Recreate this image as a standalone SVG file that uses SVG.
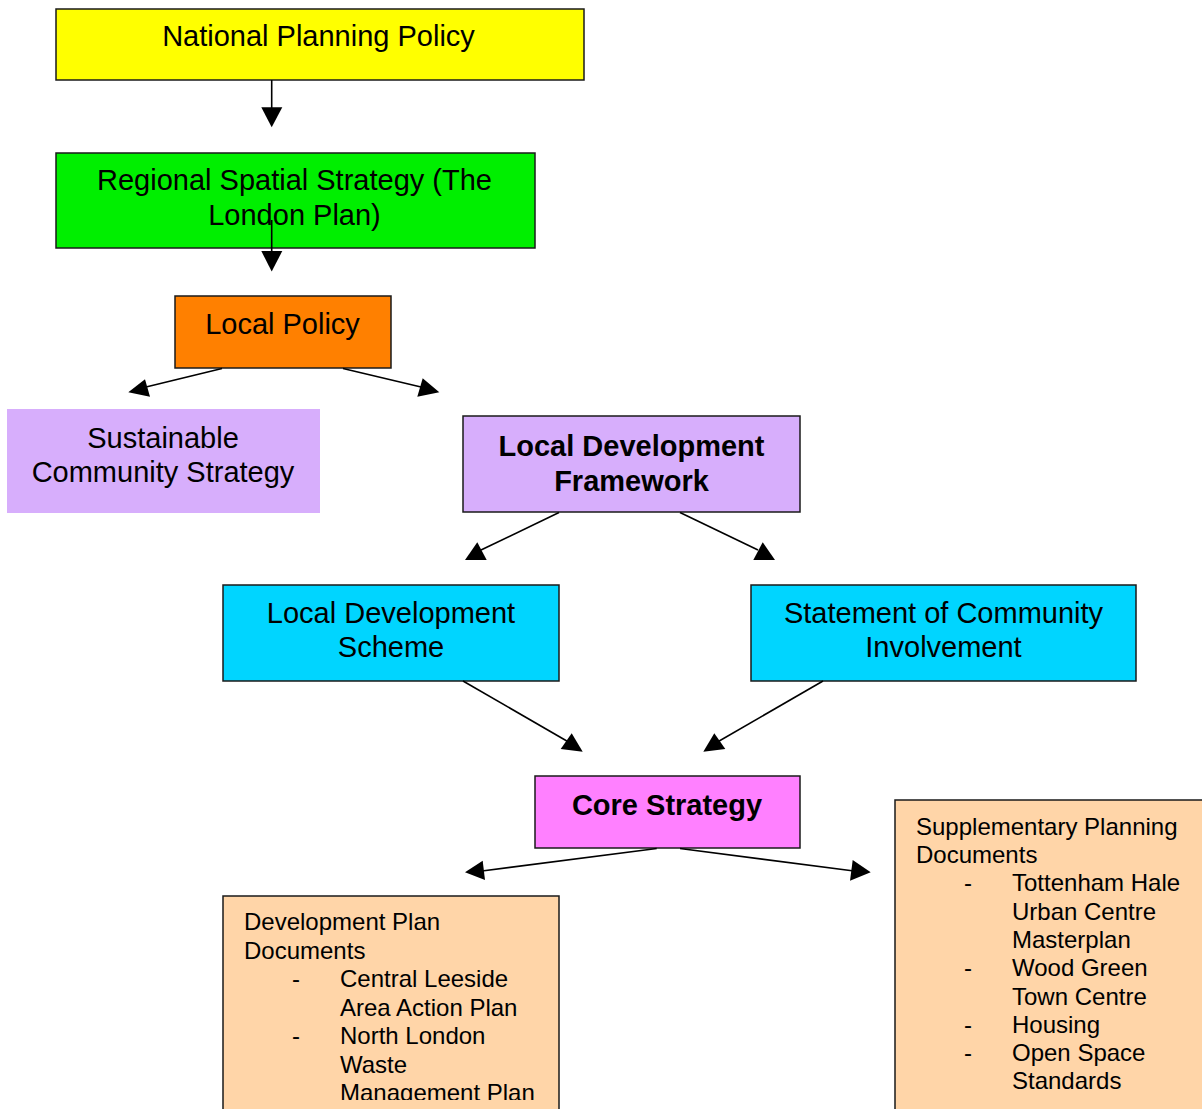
<svg xmlns="http://www.w3.org/2000/svg" width="1202" height="1109" viewBox="0 0 1202 1109">
<style>
.box{stroke:#1a1a1a;stroke-width:1.5}
.t{font-family:"Liberation Sans",Arial,sans-serif;font-size:29px;fill:#000;text-anchor:middle}
.b{font-weight:bold}
.s{font-family:"Liberation Sans",Arial,sans-serif;font-size:24px;fill:#000}
.ln{stroke:#000;stroke-width:1.6;fill:none}
.ah{fill:#000;stroke:none}
</style>
<defs>
<clipPath id="clipDpd"><rect x="223" y="896" width="337" height="204"/></clipPath>
</defs>
<rect width="1202" height="1109" fill="#fff"/>
<g id="national">
<rect class="box" x="56" y="9" width="528" height="71" fill="#FFFF00"/>
<text class="t" x="318.5" y="46">National Planning Policy</text>
</g>
<g id="regional">
<rect class="box" x="56" y="153" width="479" height="95" fill="#00EF00"/>
<text class="t" x="294.5" y="190">Regional Spatial Strategy (The</text>
<text class="t" x="294.5" y="225">London Plan)</text>
</g>
<g id="local-policy">
<rect class="box" x="175" y="296" width="216" height="72" fill="#FF8000"/>
<text class="t" x="282.5" y="334">Local Policy</text>
</g>
<g id="scs">
<rect x="7" y="409" width="313" height="104" fill="#D7AEFC"/>
<text class="t" x="163" y="448">Sustainable</text>
<text class="t" x="163" y="482">Community Strategy</text>
</g>
<g id="ldf">
<rect class="box" x="463" y="416" width="337" height="96" fill="#D7AEFC"/>
<text class="t b" x="631.5" y="456">Local Development</text>
<text class="t b" x="631.5" y="491">Framework</text>
</g>
<g id="lds">
<rect class="box" x="223" y="585" width="336" height="96" fill="#00D5FF"/>
<text class="t" x="391" y="623">Local Development</text>
<text class="t" x="391" y="657">Scheme</text>
</g>
<g id="sci">
<rect class="box" x="751" y="585" width="385" height="96" fill="#00D5FF"/>
<text class="t" x="943.5" y="623">Statement of Community</text>
<text class="t" x="943.5" y="657">Involvement</text>
</g>
<g id="core">
<rect class="box" x="535" y="776" width="265" height="72" fill="#FF80FF"/>
<text class="t b" x="667" y="815">Core Strategy</text>
</g>
<g id="dpd">
<rect class="box" x="223" y="896" width="336" height="220" fill="#FFD5A8"/>
<g clip-path="url(#clipDpd)">
<text class="s" x="244" y="930">Development Plan</text>
<text class="s" x="244" y="958.5">Documents</text>
<text class="s" x="292" y="987">-</text>
<text class="s" x="340" y="987">Central Leeside</text>
<text class="s" x="340" y="1015.5">Area Action Plan</text>
<text class="s" x="292" y="1044">-</text>
<text class="s" x="340" y="1044">North London</text>
<text class="s" x="340" y="1072.5">Waste</text>
<text class="s" x="340" y="1101">Management Plan</text>
</g>
</g>
<g id="spd">
<rect class="box" x="895" y="800" width="320" height="320" fill="#FFD5A8"/>
<text class="s" x="916" y="835">Supplementary Planning</text>
<text class="s" x="916" y="863">Documents</text>
<text class="s" x="964" y="891">-</text>
<text class="s" x="1012" y="891">Tottenham Hale</text>
<text class="s" x="1012" y="919.5">Urban Centre</text>
<text class="s" x="1012" y="947.5">Masterplan</text>
<text class="s" x="964" y="976">-</text>
<text class="s" x="1012" y="976">Wood Green</text>
<text class="s" x="1012" y="1004.5">Town Centre</text>
<text class="s" x="964" y="1032.5">-</text>
<text class="s" x="1012" y="1032.5">Housing</text>
<text class="s" x="964" y="1061">-</text>
<text class="s" x="1012" y="1061">Open Space</text>
<text class="s" x="1012" y="1089">Standards</text>
</g>
<g id="connectors">
<line class="ln" x1="271.7" y1="80" x2="271.7" y2="108"/>
<polygon class="ah" points="261.3,107.3 282.3,107.3 271.7,127.3"/>
<line class="ln" x1="271.7" y1="220" x2="271.7" y2="252"/>
<polygon class="ah" points="261.3,251 282.3,251 271.7,271.5"/>
<line class="ln" x1="222" y1="368.5" x2="146" y2="387"/>
<polygon class="ah" points="128.3,392.3 145,379.3 150,396.7"/>
<line class="ln" x1="343" y1="368.5" x2="421" y2="387"/>
<polygon class="ah" points="439.3,392.3 422.7,378.3 417.3,396.7"/>
<line class="ln" x1="559" y1="512.5" x2="481" y2="550"/>
<polygon class="ah" points="465,560 486.7,560 477.3,542.3"/>
<line class="ln" x1="680" y1="512.5" x2="758" y2="550"/>
<polygon class="ah" points="775,560 753.3,560 762.7,542.3"/>
<line class="ln" x1="463" y1="681" x2="572" y2="744"/>
<polygon class="ah" points="560.7,749 571.7,733.3 582.7,751.7"/>
<line class="ln" x1="823" y1="681" x2="714" y2="744"/>
<polygon class="ah" points="725.3,749 714.3,733.3 703.3,751.7"/>
<line class="ln" x1="656.7" y1="848.5" x2="482" y2="871"/>
<polygon class="ah" points="465,872.3 482.7,860.7 485,880"/>
<line class="ln" x1="680" y1="848.5" x2="854" y2="871"/>
<polygon class="ah" points="870.7,872.3 852.7,860 850,880.7"/>
</g>
</svg>
